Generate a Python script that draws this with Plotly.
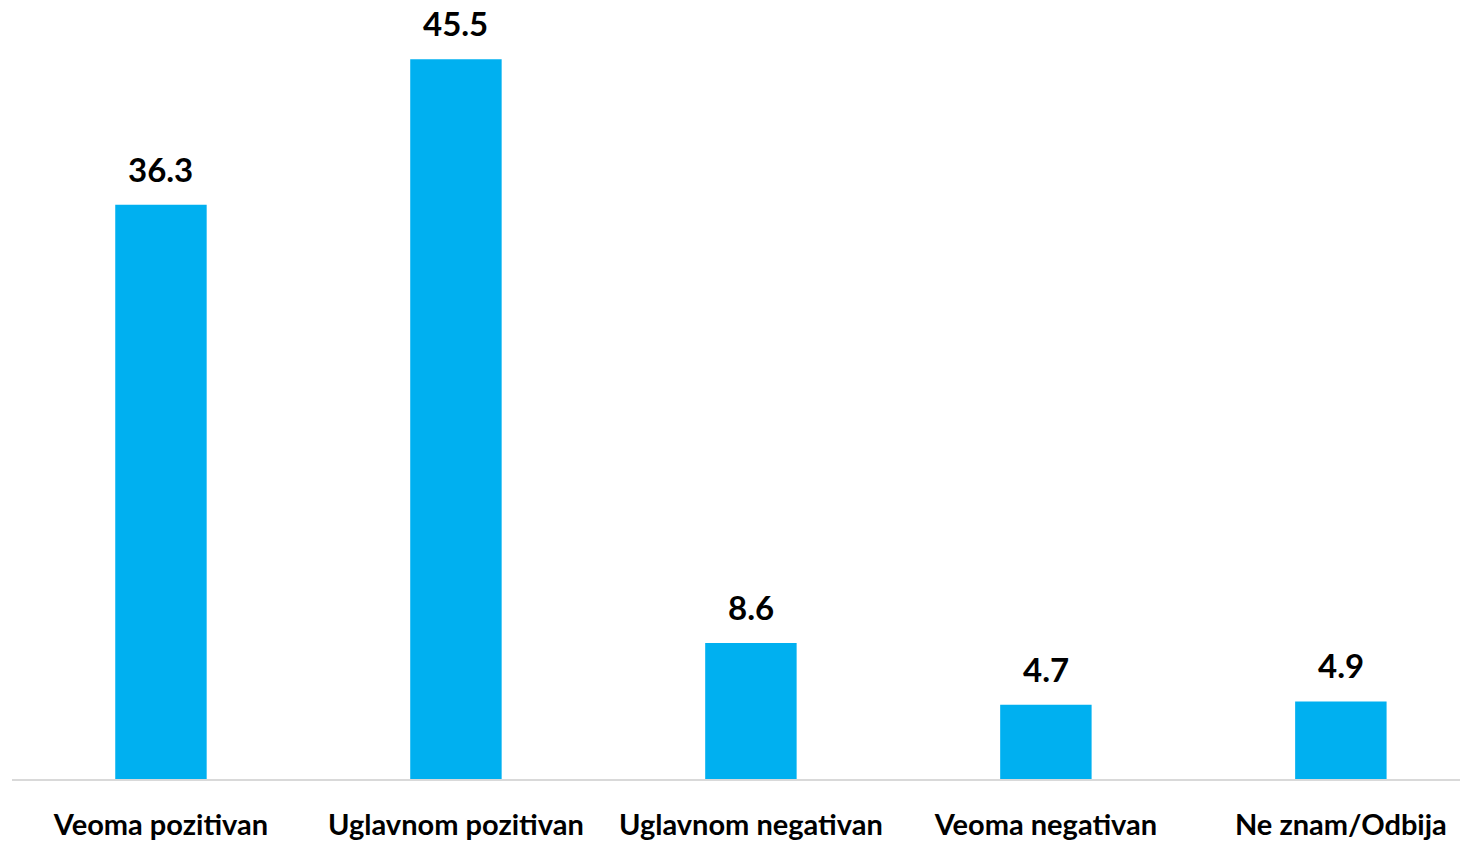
import plotly.graph_objects as go

categories = ["Veoma pozitivan", "Uglavnom pozitivan", "Uglavnom negativan", "Veoma negativan", "Ne znam/Odbija"]
values = [36.3, 45.5, 8.6, 4.7, 4.9]
value_labels = ["36.3", "45.5", "8.6", "4.7", "4.9"]

BAR = "#00b0f0"
FONT = "Lato"

fig = go.Figure()
fig.add_trace(go.Bar(
    x=list(range(len(categories))), y=values,
    marker=dict(color=BAR, line=dict(width=0)),
    width=0.31, hoverinfo="skip",
))

for i, (v, t) in enumerate(zip(values, value_labels)):
    fig.add_annotation(x=i, y=v, text="<b>" + t + "</b>", showarrow=False,
                       yanchor="bottom", yshift=14,
                       font=dict(family=FONT, size=33, color="#000000"))

fig.update_layout(
    width=1460, height=833,
    margin=dict(l=4, r=0, t=0, b=57),
    paper_bgcolor="white", plot_bgcolor="white",
    showlegend=False,
    font=dict(family=FONT, color="#000000"),
    xaxis=dict(
        range=[-0.505, 4.431],
        tickmode="array", tickvals=list(range(len(categories))),
        ticktext=["<b>" + c + "</b>" for c in categories],
        tickfont=dict(family=FONT, size=29, color="#000000"),
        showgrid=False, zeroline=False,
        showline=True, linecolor="#d9d9d9", linewidth=2,
        ticks="", ticklabelstandoff=19,
    ),
    yaxis=dict(range=[0, 48.74], visible=False),
)

fig.write_html("out.html")
